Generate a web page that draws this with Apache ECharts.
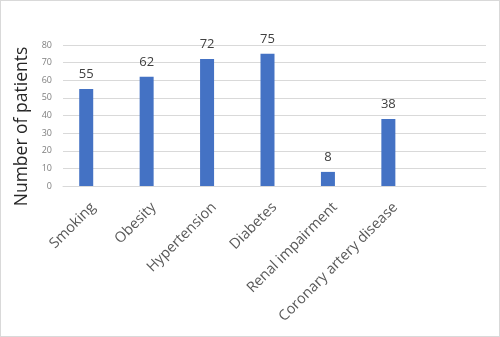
<!DOCTYPE html>
<html><head><meta charset="utf-8">
<script src="https://cdn.jsdelivr.net/npm/echarts@6/dist/echarts.min.js"></script>
<style>html,body{margin:0;padding:0;background:#fff}#c{width:498px;height:335px;border:1px solid #d9d9d9}</style>
</head><body><div id="c"></div>
<script>
const categories = ["Smoking","Obesity","Hypertension","Diabetes","Renal impairment","Coronary artery disease",""];
const patients = [55,62,72,75,8,38,null];
const emptySeries = [null,null,null,null,null,null,null];
const yTicks = {min:0,max:80,interval:10};
const chart = echarts.init(document.getElementById('c'));
const font = "'Open Sans', 'Noto Sans', sans-serif";
chart.setOption({
  animation:false,
  textStyle:{fontFamily:font},
  grid:{left:62,right:13,top:44,bottom:150},
  xAxis:{type:'category',data:categories,
    axisLine:{lineStyle:{color:'#d9d9d9'}},axisTick:{show:false},
    axisLabel:{rotate:45,interval:0,color:'#595959',fontSize:14.5,fontFamily:font,margin:19}},
  yAxis:{type:'value',min:yTicks.min,max:yTicks.max,interval:yTicks.interval,
    name:'Number of patients',nameLocation:'middle',nameGap:21,
    nameTextStyle:{fontSize:17.5,color:'#262626',fontFamily:font,padding:[0,22,0,0]},
    axisLine:{show:false},axisTick:{show:false},
    axisLabel:{color:'#7f7f7f',fontSize:9,margin:11,fontFamily:font},
    splitLine:{lineStyle:{color:'#d9d9d9'}}},
  series:[
    {type:'bar',data:patients,barWidth:14,barGap:'0%',itemStyle:{color:'#4472C4'},
     label:{show:true,position:'top',color:'#404040',fontSize:13,fontFamily:font,distance:8}},
    {type:'bar',data:emptySeries,barWidth:14}
  ]
});
</script></body></html>
